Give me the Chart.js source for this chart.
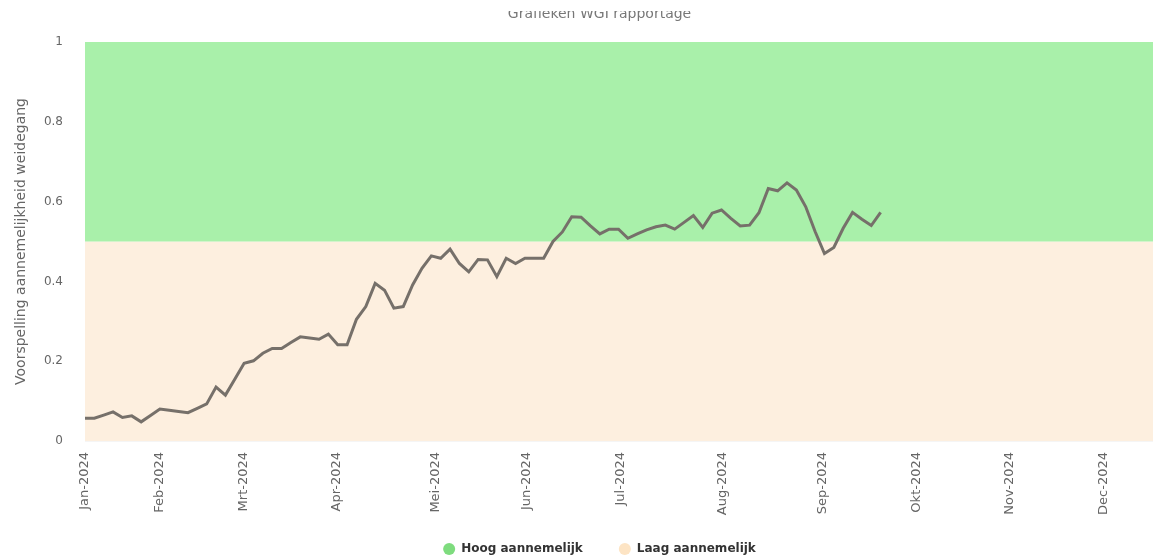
<!DOCTYPE html>
<html>
<head>
<meta charset="utf-8">
<script src="https://cdn.jsdelivr.net/npm/chart.js@4.4.1/dist/chart.umd.min.js"></script>
<style>
  html, body { margin: 0; padding: 0; background: #fff; }
  #wrap { position: relative; width: 1154px; height: 560px; overflow: hidden; }
  #mask { position: absolute; left: 0; top: 0; width: 1154px; height: 11px; background: #fff; }
</style>
</head>
<body>
<div id="wrap">
  <canvas id="c" width="1154" height="560"></canvas>
  <div id="mask"></div>
</div>
<script>
// ---- data ----
const chartTitle = 'Grafieken WGI rapportage';
const yAxisTitle = 'Voorspelling aannemelijkheid weidegang';
const monthLabels = ['Jan-2024','Feb-2024','Mrt-2024','Apr-2024','Mei-2024','Jun-2024',
                     'Jul-2024','Aug-2024','Sep-2024','Okt-2024','Nov-2024','Dec-2024'];
// position of each month label along the (measurement index) x axis
const monthTickPos = [0, 8.0, 16.9, 26.9, 37.5, 47.2, 57.2, 68.1, 78.8, 88.9, 98.8, 108.8];
const xAxisEnd = 114.1;
// forecast value per measurement
const voorspelling = [
  0.057, 0.057, 0.065, 0.073, 0.059, 0.063, 0.048, 0.064, 0.080, 0.077,
  0.074, 0.071, 0.082, 0.093, 0.135, 0.115, 0.155, 0.195, 0.201, 0.220,
  0.232, 0.232, 0.247, 0.261, 0.258, 0.255, 0.268, 0.241, 0.241, 0.305,
  0.337, 0.395, 0.378, 0.333, 0.337, 0.391, 0.433, 0.464, 0.458, 0.481,
  0.445, 0.424, 0.455, 0.454, 0.412, 0.458, 0.445, 0.458, 0.458, 0.458,
  0.500, 0.524, 0.562, 0.561, 0.539, 0.519, 0.531, 0.531, 0.508, 0.519,
  0.529, 0.537, 0.541, 0.531, 0.548, 0.565, 0.535, 0.571, 0.579, 0.558,
  0.539, 0.541, 0.572, 0.633, 0.627, 0.647, 0.629, 0.587, 0.525, 0.470,
  0.485, 0.533, 0.573, 0.556, 0.540, 0.573
];
const bandNames = ['Hoog aannemelijk', 'Laag aannemelijk'];
const bandUpper = [1, 0.5];   // top of each band
const bandLower = [0.5, 0];   // bottom of each band
const yMin = 0, yMax = 1, yStep = 0.2;

// ---- styles ----
const FONT = 'DejaVu Sans';
const bandFill = ['#a9f0aa', '#fdefdf'];
const legendFill = ['#7edc7e', '#fde4c4'];
const lineColor = '#76706a';

const bandDatasets = bandNames.map((name, k) => ({
  label: name,
  data: [{x: 0, y: bandUpper[k]}, {x: xAxisEnd, y: bandUpper[k]}],
  fill: {value: bandLower[k]},
  backgroundColor: bandFill[k],
  borderColor: 'rgba(0,0,0,0)',
  borderWidth: 0,
  pointRadius: 0,
  order: 2 + k
}));

const shiftPlugin = {
  id: 'shiftCenter',
  afterLayout(chart) {
    const d = 23, up = 9;
    if (chart.legend) {
      chart.legend.left += d; chart.legend.right += d;
      chart.legend.top -= up; chart.legend.bottom -= up;
    }
    if (chart.titleBlock) { chart.titleBlock.left += d; chart.titleBlock.right += d; }
  }
};

new Chart(document.getElementById('c'), {
  type: 'line',
  data: {
    datasets: [
      {
        label: 'Voorspelling',
        data: voorspelling.map((v, i) => ({x: i, y: v})),
        borderColor: lineColor,
        borderWidth: 3,
        pointRadius: 0,
        tension: 0,
        fill: false,
        order: 0
      },
      ...bandDatasets
    ]
  },
  options: {
    responsive: false,
    devicePixelRatio: 1,
    animation: false,
    layout: { padding: { left: 0, right: 1, top: 0, bottom: -14 } },
    plugins: {
      title: {
        display: true,
        text: chartTitle,
        color: '#777',
        font: { family: FONT, size: 14, weight: 'normal' },
        padding: { top: 6, bottom: 19.2 }
      },
      legend: {
        position: 'bottom',
        labels: {
          usePointStyle: true,
          pointStyle: 'circle',
          boxWidth: 12,
          boxHeight: 8.5,
          padding: 36,
          color: '#333',
          font: { family: FONT, size: 12, weight: 'bold' },
          filter: (item) => bandNames.includes(item.text),
          generateLabels(chart) {
            const items = Chart.defaults.plugins.legend.labels.generateLabels(chart);
            items.forEach(it => {
              const k = bandNames.indexOf(it.text);
              if (k >= 0) { it.fillStyle = legendFill[k]; it.strokeStyle = legendFill[k]; it.lineWidth = 0; }
            });
            return items;
          }
        }
      },
      tooltip: { enabled: false }
    },
    scales: {
      x: {
        type: 'linear',
        min: 0,
        max: xAxisEnd,
        grid: { display: false, drawTicks: false },
        border: { display: false },
        afterBuildTicks(scale) { scale.ticks = monthTickPos.map(v => ({value: v})); },
        afterFit(scale) { scale.height = 75; },
        ticks: {
          autoSkip: false,
          minRotation: 90,
          maxRotation: 90,
          padding: 11,
          color: '#666',
          font: { family: FONT, size: 13 },
          callback: (value, index) => monthLabels[index]
        }
      },
      y: {
        min: yMin,
        max: yMax,
        afterFit(scale) { scale.width = 85; },
        grid: { color: 'rgba(0,0,0,0.04)', drawTicks: false },
        border: { display: false },
        ticks: {
          stepSize: yStep,
          padding: 22,
          color: '#666',
          font: { family: FONT, size: 12 },
          callback: (value) => String(Math.round(value * 10) / 10)
        },
        title: {
          display: true,
          text: yAxisTitle,
          color: '#666',
          font: { family: FONT, size: 14 },
          padding: { top: 13, bottom: 0 }
        }
      }
    }
  },
  plugins: [shiftPlugin]
});
</script>
</body>
</html>
